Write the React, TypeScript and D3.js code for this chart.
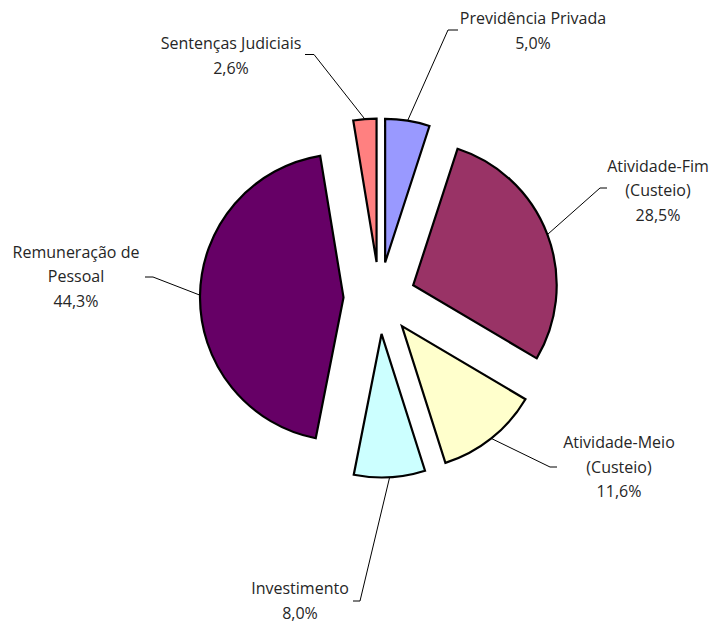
import React from "react";
import * as d3 from "d3";

const categories = [
  "Previdência Privada",
  "Atividade-Fim (Custeio)",
  "Atividade-Meio (Custeio)",
  "Investimento",
  "Remuneração de Pessoal",
  "Sentenças Judiciais",
];
const values = [5.0, 28.5, 11.6, 8.0, 44.3, 2.6];
const labelLines = [
  ["Previdência Privada", "5,0%"],
  ["Atividade-Fim", "(Custeio)", "28,5%"],
  ["Atividade-Meio", "(Custeio)", "11,6%"],
  ["Investimento", "8,0%"],
  ["Remuneração de", "Pessoal", "44,3%"],
  ["Sentenças Judiciais", "2,6%"],
];
const colors = ["#9999FF", "#993366", "#FFFFCC", "#CCFFFF", "#660066", "#FF8080"];

// label layout: text center x, first baseline y, elbow point, horizontal end
const labelLayout = [
  { x: 533, y: 24, elbow: [448, 30], end: [458, 30] },
  { x: 658, y: 171.5, elbow: [600, 188], end: [607, 188] },
  { x: 619, y: 448, elbow: [550, 467], end: [557, 467] },
  { x: 300, y: 594, elbow: [360, 601], end: [353, 601] },
  { x: 76, y: 257.5, elbow: [153, 277], end: [145, 277] },
  { x: 231, y: 49, elbow: [314, 54.5], end: [305, 54.5] },
];

const W = 719;
const H = 628;
const CX = 379.5;
const CY = 298;
const R = 143.5;
const EXPLODE = 36;
const LINE_H = 24.5;

export default function App() {
  const pie = d3
    .pie<number>()
    .sort(null)
    .value((d) => d)
    .startAngle(0)
    .endAngle(2 * Math.PI);
  const arcs = pie(values);
  const arcGen = d3.arc<d3.PieArcDatum<number>>().innerRadius(0).outerRadius(R);

  return (
    <svg
      width={W}
      height={H}
      style={{ position: "absolute", left: 0, top: 0, background: "#fff" }}
      fontFamily="'Open Sans', sans-serif"
    >
      {arcs.map((a, i) => {
        const mid = (a.startAngle + a.endAngle) / 2;
        const ox = CX + Math.sin(mid) * EXPLODE;
        const oy = CY - Math.cos(mid) * EXPLODE;
        const sx = ox + Math.sin(mid) * R;
        const sy = oy - Math.cos(mid) * R;
        const L = labelLayout[i];
        return (
          <g key={categories[i]}>
            <path
              d={arcGen(a) || ""}
              transform={`translate(${ox},${oy})`}
              fill={colors[i]}
              stroke="#000"
              strokeWidth={2.2}
              strokeLinejoin="miter"
            />
            <polyline
              points={`${sx},${sy} ${L.elbow[0]},${L.elbow[1]} ${L.end[0]},${L.end[1]}`}
              fill="none"
              stroke="#000"
              strokeWidth={1}
            />
          </g>
        );
      })}
      {labelLines.map((lines, i) => (
        <text
          key={"t" + i}
          x={labelLayout[i].x}
          y={labelLayout[i].y}
          textAnchor="middle"
          fontSize={16}
          fill="#262626"
        >
          {lines.map((ln, j) => (
            <tspan key={j} x={labelLayout[i].x} y={labelLayout[i].y + j * LINE_H}>
              {ln}
            </tspan>
          ))}
        </text>
      ))}
    </svg>
  );
}
